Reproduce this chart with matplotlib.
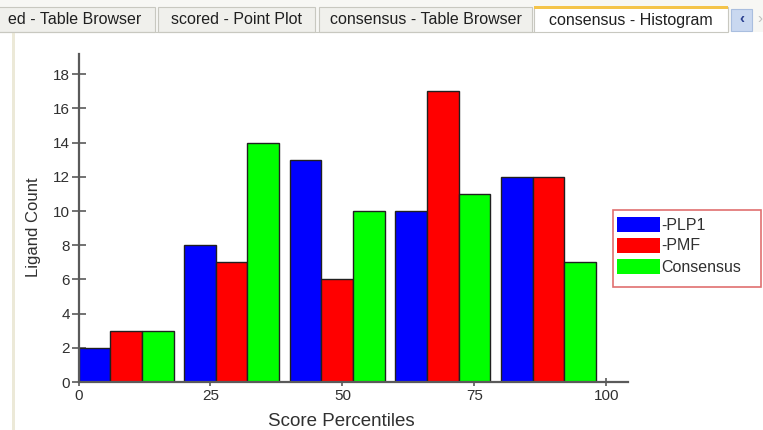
import matplotlib
matplotlib.use("Agg")
import matplotlib.pyplot as plt
from matplotlib.patches import Rectangle
from matplotlib.lines import Line2D

# Histogram data: five percentile bins, three scoring functions
bin_starts = [0, 20, 40, 60, 80]
series_names = ["-PLP1", "-PMF", "Consensus"]
plp1_counts = [2, 8, 13, 10, 12]
pmf_counts = [3, 7, 6, 17, 12]
consensus_counts = [3, 14, 10, 11, 7]
series_colors = ["#0000FF", "#FF0000", "#00FF00"]

x_ticks = [0, 25, 50, 75, 100]
y_ticks = [0, 2, 4, 6, 8, 10, 12, 14, 16, 18]

tab_labels = ["ed - Table Browser", "scored - Point Plot",
              "consensus - Table Browser", "consensus - Histogram"]

W, H = 763, 430
plt.rcParams["font.family"] = ["Liberation Sans", "DejaVu Sans"]

fig = plt.figure(figsize=(W / 100, H / 100), dpi=100)
fig.patch.set_facecolor("white")


def fx(px):
    return px / W


def fy(py):
    return 1 - py / H


def frect(x0, y0, x1, y1, **kw):
    fig.add_artist(Rectangle((fx(x0), fy(y1)), fx(x1) - fx(x0), fy(y0) - fy(y1),
                             transform=fig.transFigure, **kw))


def fline(xs, ys, **kw):
    fig.add_artist(Line2D([fx(x) for x in xs], [fy(y) for y in ys],
                          transform=fig.transFigure, **kw))


# ---- tab strip ----
frect(0, 0, W, 32, facecolor="#F7F7F4", edgecolor="none", zorder=0)
tab_edges = [(-5, 155), (158, 315), (319, 532), (534, 728)]
for i, ((x0, x1), label) in enumerate(zip(tab_edges, tab_labels)):
    active = i == len(tab_labels) - 1
    face = "white" if active else "#F0F0EC"
    frect(x0, 7, x1, 32, facecolor=face, edgecolor="#C8C8C0", linewidth=0.8, zorder=1)
    if active:
        frect(x0, 6, x1, 8.5, facecolor="#F4C44A", edgecolor="none", zorder=2)
    if i == 0:
        fig.text(fx(8), fy(20), label, ha="left", va="center", fontsize=11.5,
                 color="#202020", zorder=3)
    else:
        fig.text(fx((x0 + x1) / 2), fy(20), label, ha="center", va="center",
                 fontsize=11.5, color="#202020", zorder=3)
fline([0, 534], [32, 32], color="#C8C8C0", linewidth=0.8)
# scroll buttons
frect(731, 9, 752, 31, facecolor="#C9D8F0", edgecolor="#A9BEDF", linewidth=0.8, zorder=1)
fig.text(fx(741.5), fy(19), "\u2039", ha="center", va="center", fontsize=11,
         color="#2A3F8F", fontweight="bold", zorder=3)
fig.text(fx(760), fy(19), "\u203A", ha="center", va="center", fontsize=11,
         color="#C0C0C0", zorder=3)
# left panel border
frect(12, 32, 15, H, facecolor="#ECE9D8", edgecolor="none", zorder=1)

# ---- chart ----
x0_px, x1_px = 78.5, 627.6
y_bottom_px, y_top_px = 382, 53.7
ax_w = x1_px - x0_px
ax_h = y_bottom_px - y_top_px
ax = fig.add_axes([fx(x0_px), fy(y_bottom_px), fx(x1_px) - fx(x0_px),
                   fy(y_top_px) - fy(y_bottom_px)])
ax.set_facecolor("none")

bar_width = 6
all_counts = [plp1_counts, pmf_counts, consensus_counts]
for k, (counts, color, name) in enumerate(zip(all_counts, series_colors, series_names)):
    ax.bar([b + k * bar_width for b in bin_starts], counts, width=bar_width,
           align="edge", color=color, edgecolor="#202020", linewidth=1.0,
           label=name, zorder=2)

ax.set_xlim(0, 104)
ax.set_ylim(0, 19.2)
ax.set_xticks(x_ticks)
ax.set_yticks(y_ticks)

for s in ["top", "right"]:
    ax.spines[s].set_visible(False)
for s in ["left", "bottom"]:
    ax.spines[s].set_color("#5A5A5A")
    ax.spines[s].set_linewidth(1.6)
    ax.spines[s].set_zorder(3)

ax.tick_params(axis="y", direction="inout", length=10, width=1.2, color="#5A5A5A",
               labelsize=11, labelcolor="#303030", pad=1)
ax.tick_params(axis="x", direction="inout", length=6, width=1.2, color="#5A5A5A",
               labelsize=11, labelcolor="#303030", pad=2)

ax.set_xlabel("Score Percentiles", fontsize=13.5, color="#303030")
ax.xaxis.set_label_coords((341 - x0_px) / ax_w, -(413 - y_bottom_px) / ax_h)
ax.set_ylabel("Ligand Count", fontsize=12, color="#303030")
ax.yaxis.set_label_coords(-(x0_px - 41) / ax_w, (y_bottom_px - 227) / ax_h)

# legend box
frect(612.5, 209.5, 761, 286.5, facecolor="white", edgecolor="#E07070",
      linewidth=1.2, zorder=4)
row_tops = [217, 238, 259]
for name, color, top in zip(series_names, series_colors, row_tops):
    frect(617, top, 660, top + 15, facecolor=color, edgecolor="none", zorder=5)
    fig.text(fx(661), fy(top + 8), name, ha="left", va="center", fontsize=11.5,
             color="#303030", zorder=6)

fig.savefig("out.png", dpi=100)
